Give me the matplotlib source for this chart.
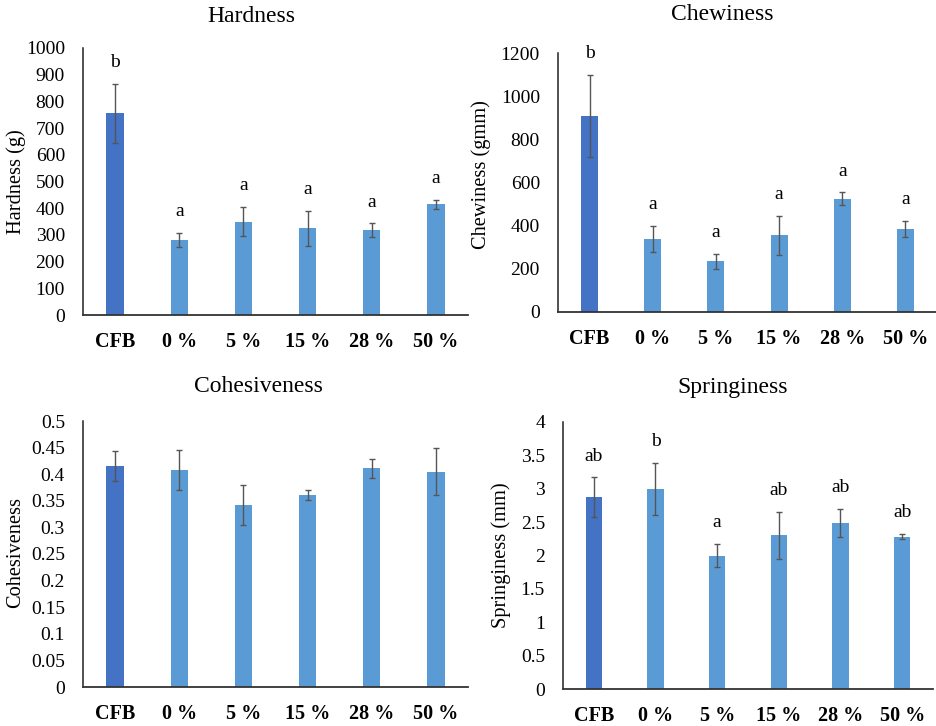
import matplotlib
matplotlib.use("Agg")
import matplotlib.pyplot as plt
from matplotlib.ticker import FuncFormatter

plt.rcParams['font.family'] = ['Liberation Serif', 'DejaVu Serif']

groups = ['CFB', '0 %', '5 %', '15 %', '28 %', '50 %']

hardness = [755, 280, 350, 325, 318, 415]
hardness_err = [110, 27, 55, 65, 25, 17]
hardness_sig = ['b', 'a', 'a', 'a', 'a', 'a']

chewiness = [910, 340, 235, 355, 525, 385]
chewiness_err = [190, 60, 35, 90, 30, 38]
chewiness_sig = ['b', 'a', 'a', 'a', 'a', 'a']

cohesiveness = [0.415, 0.408, 0.342, 0.361, 0.411, 0.405]
cohesiveness_err = [0.028, 0.037, 0.038, 0.009, 0.018, 0.045]

springiness = [2.87, 3.00, 2.00, 2.30, 2.49, 2.28]
springiness_err = [0.30, 0.39, 0.17, 0.35, 0.21, 0.04]
springiness_sig = ['ab', 'b', 'a', 'ab', 'ab', 'ab']

dark = '#4472C4'
light = '#5B9BD5'
W, H = 937, 726

fig = plt.figure(figsize=(W / 100, H / 100), dpi=100)


def panel(box, vals, errs, ymax, step, title, title_xy, ylabel, ylabel_xy, sig=None):
    l, t, r, b = box
    ax = fig.add_axes([l / W, 1 - b / H, (r - l) / W, (b - t) / H])
    x = range(len(groups))
    colors = [dark] + [light] * (len(groups) - 1)
    ax.bar(x, vals, width=0.27, color=colors, yerr=errs, capsize=2.5,
           error_kw=dict(ecolor='#555555', elinewidth=1, capthick=1))
    ax.set_xlim(-0.5, len(groups) - 0.5)
    ax.set_ylim(0, ymax)
    n = int(round(ymax / step))
    ax.set_yticks([i * step for i in range(n + 1)])
    ax.yaxis.set_major_formatter(FuncFormatter(lambda v, p: '{:g}'.format(round(v, 3))))
    ax.set_xticks(list(x))
    ax.set_xticklabels(groups, fontweight='bold', fontsize=14.5)
    ax.tick_params(axis='y', length=0, pad=13, labelsize=14)
    ax.tick_params(axis='x', length=0, pad=12)
    for s in ['top', 'right']:
        ax.spines[s].set_visible(False)
    ax.spines['left'].set_color('#222222')
    ax.spines['bottom'].set_color('#333333')
    ax.spines['left'].set_linewidth(1.1)
    ax.spines['bottom'].set_linewidth(1.3)
    if sig:
        for i, (v, e, s) in enumerate(zip(vals, errs, sig)):
            ax.annotate(s, (i, v + e), xytext=(0, 12), textcoords='offset points',
                        ha='center', va='baseline', fontsize=14)
    fig.text(title_xy[0] / W, 1 - title_xy[1] / H, title, ha='center', va='center', fontsize=17)
    fig.text(ylabel_xy[0] / W, 1 - ylabel_xy[1] / H, ylabel, ha='center', va='center',
             rotation=90, fontsize=14.7)
    return ax


panel((83, 48, 468, 315), hardness, hardness_err, 1000, 100,
      'Hardness', (251, 17), 'Hardness (g)', (16, 182), hardness_sig)
panel((558, 53, 937, 312), chewiness, chewiness_err, 1200, 200,
      'Chewiness', (722, 15), 'Chewiness (gmm)', (481, 175), chewiness_sig)
panel((83, 421, 468, 687), cohesiveness, cohesiveness_err, 0.5, 0.05,
      'Cohesiveness', (258, 387), 'Cohesiveness', (16, 553))
panel((563, 422, 933, 689), springiness, springiness_err, 4, 0.5,
      'Springiness', (733, 388), 'Springiness (mm)', (501, 555), springiness_sig)

fig.savefig('out.png', dpi=100)
